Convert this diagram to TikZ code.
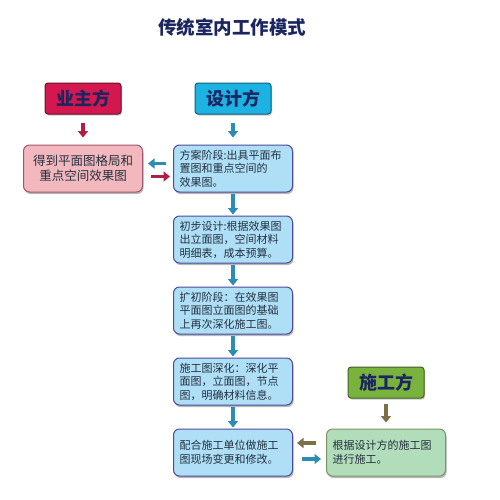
\documentclass[tikz,border=0pt]{standalone}
\usepackage{fontspec}
\setmainfont{Noto Sans CJK SC}
\usetikzlibrary{arrows.meta,positioning,shadows}
\definecolor{titleblue}{HTML}{1B2560}
\definecolor{textgray}{HTML}{243040}
\definecolor{ownerred}{HTML}{D2184E}
\definecolor{designcyan}{HTML}{1CB2E2}
\definecolor{workgreen}{HTML}{7AB23E}
\definecolor{ownerpink}{HTML}{F3B8BD}
\definecolor{stageblue}{HTML}{AEDFF6}
\definecolor{workpale}{HTML}{B2DDBA}
\definecolor{arrred}{HTML}{B01E48}
\definecolor{arrteal}{HTML}{2C8DB2}
\definecolor{arrolive}{HTML}{7D7048}
\tikzset{
	head/.style={rectangle,rounded corners=3pt,draw=#1!55!black,line width=1pt,fill=#1,minimum width=76pt,minimum height=31pt,font=\fontsize{18}{20}\selectfont\bfseries,text=titleblue,drop shadow={shadow xshift=1pt,shadow yshift=-1.5pt,fill=black!45}},
	box/.style={rectangle,rounded corners=6pt,line width=1pt,text width=107pt,inner xsep=6pt,inner ysep=3pt,minimum height=47pt,align=left,font=\fontsize{11}{13.5}\selectfont,text=textgray,drop shadow={shadow xshift=1pt,shadow yshift=-2pt,fill=black!55}},
	stage/.style={box,fill=stageblue,draw=black!20!blue!40!gray},
	link/.style={-{Triangle[width=10pt,length=6.5pt]},line width=3.5pt,draw=#1}
}
\begin{document}
\begin{tikzpicture}[x=1pt,y=-1pt,node distance=23pt]
		\fill[white] (0,0) rectangle (500,499);
		\useasboundingbox (0,0) rectangle (500,499);
		\node[font=\fontsize{18.5}{20}\selectfont\bfseries,text=titleblue] (title) at (232,27) {传统室内工作模式};

		% design side
		\node[head=designcyan] (design) at (233,98.5) {设计方};
		\node[stage,below=30pt of design] (s1) {方案阶段:出具平面布\\置图和重点空间的\\效果图。};
		\node[stage,below=of s1] (s2) {初步设计:根据效果图\\出立面图，空间材料\\明细表，成本预算。};
		\node[stage,below=of s2] (s3) {扩初阶段：在效果图\\平面图立面图的基础\\上再次深化施工图。};
		\node[stage,below=of s3] (s4) {施工图深化：深化平\\面图，立面图，节点\\图，明确材料信息。};
		\node[stage,below=of s4,text depth=15pt] (s5) {配合施工单位做施工\\图现场变更和修改。};

		% owner side
		\node[box,left=30pt of s1,fill=ownerpink,draw=ownerred!40!gray,align=center,font=\fontsize{12.5}{15}\selectfont] (plan) {得到平面图格局和\\重点空间效果图};
		\node[head=ownerred,above=30pt of plan] (owner) {业主方};

		% builder side
		\node[box,right=33pt of s5,fill=workpale,draw=workgreen!40!gray,text depth=15pt] (build) {根据设计方的施工图\\进行施工。};
		\node[head=workgreen,above=30pt of build] (worker) {施工方};

		\draw[link=arrred,shorten <=8pt,shorten >=7pt] (owner) -- (plan);
		\draw[link=arrteal,shorten <=8pt,shorten >=7pt] (design) -- (s1);
		\draw[link=arrolive,shorten <=5pt,shorten >=6pt] (worker) -- (build);
		\draw[link=arrteal,shorten <=1pt,shorten >=1pt] (s1) -- (s2);
		\draw[link=arrteal,shorten <=1pt,shorten >=1pt] (s2) -- (s3);
		\draw[link=arrteal,shorten <=1pt,shorten >=1pt] (s3) -- (s4);
		\draw[link=arrteal,shorten <=1pt,shorten >=1pt] (s4) -- (s5);

		\draw[link=arrteal,shorten <=7pt,shorten >=5pt] ([yshift=5pt]s1.west) -- ([yshift=5pt]plan.east);
		\draw[link=arrred,shorten <=8pt,shorten >=3pt] ([yshift=-8pt]plan.east) -- ([yshift=-8pt]s1.west);
		\draw[link=arrolive,shorten <=10pt,shorten >=4pt] ([yshift=9.5pt]build.west) -- ([yshift=9.5pt]s5.east);
		\draw[link=arrteal,shorten <=9pt,shorten >=5pt] ([yshift=-6.5pt]s5.east) -- ([yshift=-6.5pt]build.west);
		\end{tikzpicture}
\end{document}
